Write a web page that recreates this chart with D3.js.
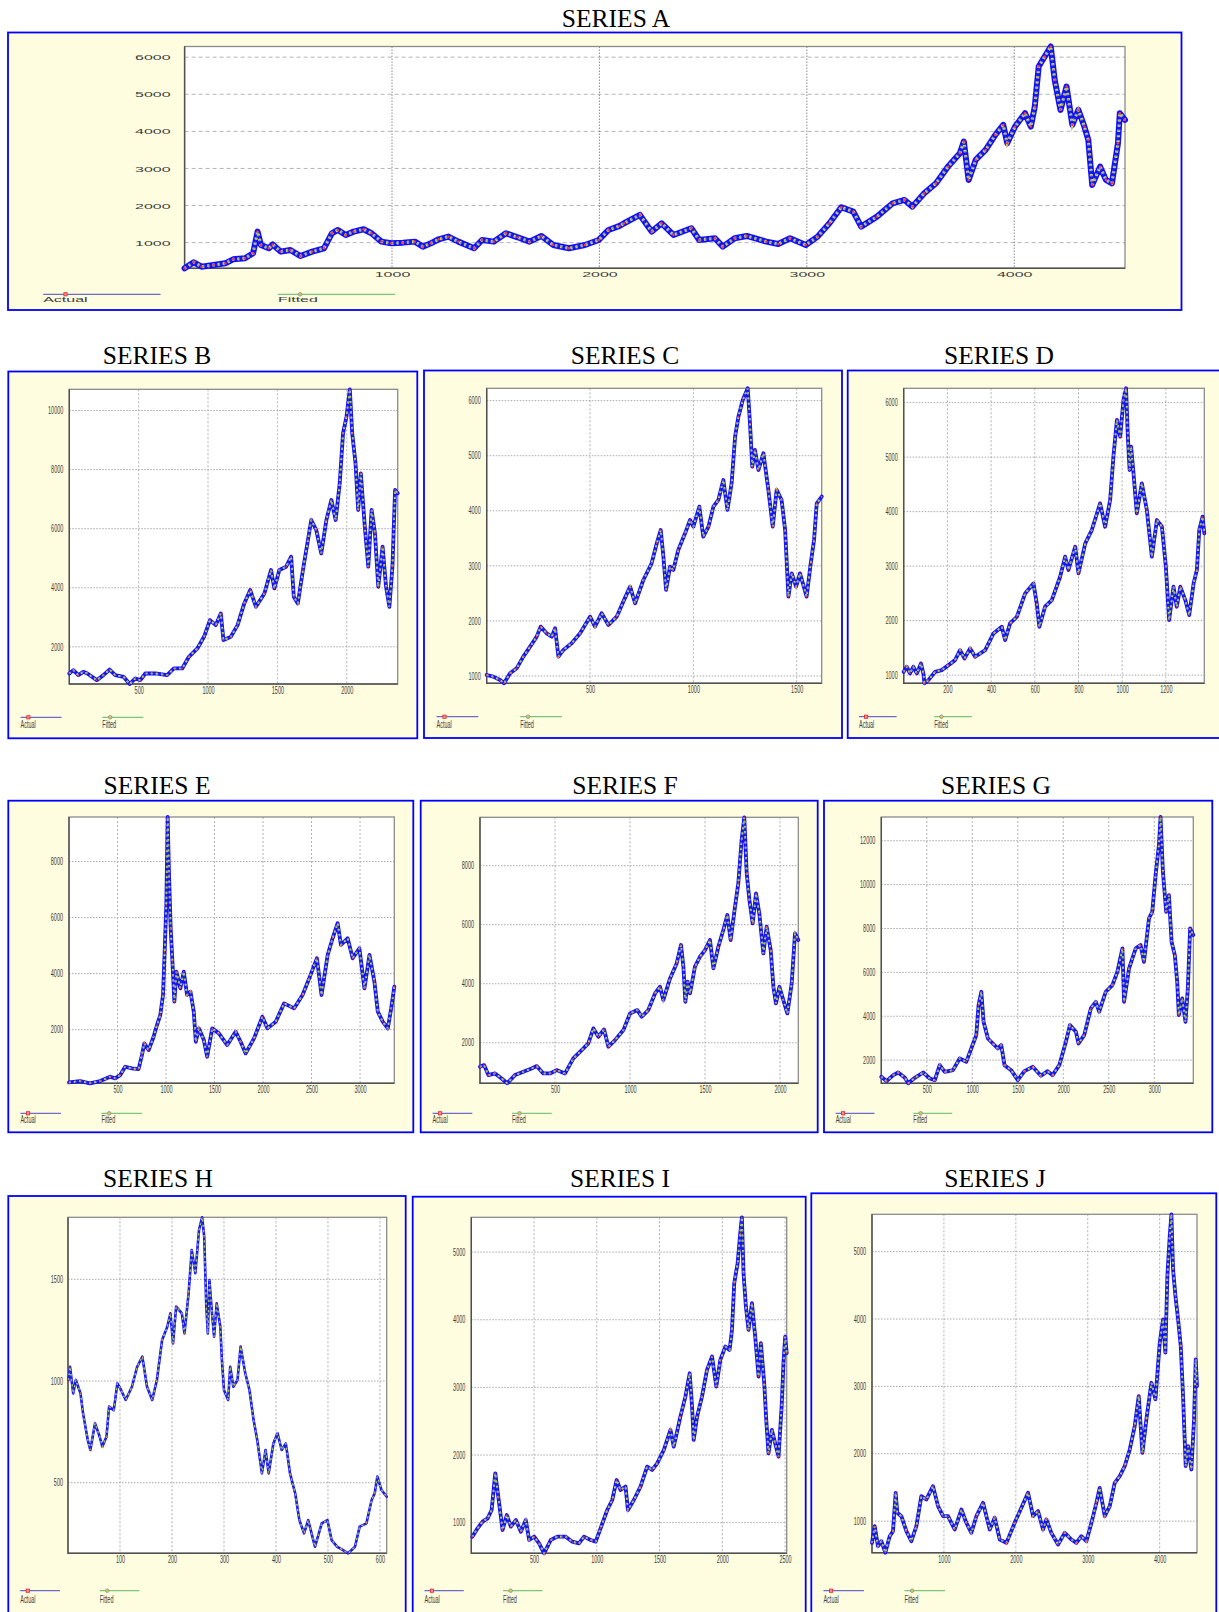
<!DOCTYPE html>
<html>
<head>
<meta charset="utf-8">
<script src="https://cdn.jsdelivr.net/npm/d3@7"></script>
<style>
  body { margin: 0; background: #ffffff; }
  svg { display: block; }
</style>
</head>
<body>
<svg id="chart" width="1219" height="1612"></svg>
<script>
// ---- Series values: [observation index, level] ----
const seriesA = [[0,308],[44,470],[82,352],[139,397],[196,442],[234,550],[291,577],[330,712],[352,1297],[368,937],[406,847],[425,950],[463,757],[510,802],[558,640],[615,757],[672,847],[710,1252],[739,1342],[777,1207],[815,1297],[863,1360],[901,1252],[949,1027],[996,982],[1053,1000],[1110,1027],[1149,892],[1187,982],[1225,1090],[1272,1162],[1320,1027],[1396,847],[1434,1072],[1491,1027],[1549,1252],[1606,1144],[1663,1027],[1720,1180],[1777,937],[1853,847],[1930,937],[1997,1072],[2044,1342],[2097,1450],[2119,1522],[2195,1746],[2252,1297],[2300,1522],[2357,1207],[2443,1387],[2481,1072],[2557,1117],[2595,892],[2652,1117],[2710,1180],[2805,1027],[2862,964],[2919,1117],[2995,937],[3052,1162],[3109,1522],[3166,1953],[3224,1836],[3262,1432],[3338,1701],[3414,2061],[3471,2151],[3509,1971],[3566,2331],[3623,2601],[3681,3050],[3738,3410],[3757,3725],[3780,2691],[3814,3230],[3862,3500],[3909,3905],[3947,4174],[3966,3680],[4004,4129],[4052,4489],[4080,4129],[4099,4669],[4118,5748],[4147,6018],[4176,6288],[4195,5388],[4223,4579],[4252,5208],[4280,4174],[4309,4579],[4338,4129],[4357,3770],[4376,2556],[4414,3050],[4442,2691],[4471,2601],[4500,3680],[4509,4489],[4534,4309]];

const seriesB = [[0,1096],[29,1209],[65,1040],[101,1153],[130,1096],[198,870],[246,1040],[290,1230],[331,1040],[391,983],[435,740],[476,927],[512,870],[548,1096],[621,1096],[705,1040],[754,1266],[814,1266],[862,1661],[923,1944],[971,2339],[1014,2904],[1056,2734],[1092,3130],[1111,2226],[1164,2339],[1213,2734],[1261,3469],[1304,3921],[1345,3356],[1406,3808],[1454,4599],[1478,3977],[1514,4599],[1563,4712],[1599,5051],[1618,3695],[1647,3469],[1684,4599],[1720,5616],[1744,6294],[1780,5955],[1816,5164],[1853,6294],[1889,6972],[1920,6294],[1949,7537],[1973,9232],[1998,9797],[2022,10720],[2039,9232],[2063,8215],[2082,6633],[2101,7876],[2130,6068],[2155,4712],[2179,6633],[2203,5842],[2227,4034],[2258,5390],[2283,4034],[2307,3356],[2329,4712],[2348,7311],[2367,7200]];

const seriesC = [[0,1018],[32,988],[65,927],[84,867],[113,1048],[145,1139],[177,1351],[210,1533],[242,1714],[261,1896],[290,1775],[315,1714],[331,1866],[347,1351],[371,1472],[411,1593],[452,1775],[500,2077],[524,1896],[556,2138],[589,1926],[629,2077],[661,2350],[694,2622],[718,2320],[758,2743],[798,3046],[823,3409],[842,3651],[855,3167],[868,2562],[887,2985],[903,2925],[927,3288],[960,3591],[984,3833],[1000,3712],[1029,4075],[1048,3530],[1073,3712],[1097,4075],[1121,4196],[1145,4559],[1165,4015],[1185,4499],[1202,5346],[1218,5709],[1239,6012],[1263,6224],[1274,5588],[1285,4801],[1298,5104],[1315,4741],[1339,5044],[1363,4378],[1384,3712],[1403,4378],[1427,4196],[1444,3651],[1460,2441],[1476,2864],[1497,2622],[1516,2864],[1548,2441],[1568,3046],[1584,3470],[1597,4136],[1621,4257]];

const seriesD = [[0,1061],[14,1153],[29,1031],[44,1153],[60,1031],[79,1214],[90,1031],[95,850],[113,908],[144,1061],[174,1092],[205,1184],[235,1275],[258,1459],[278,1306],[304,1490],[327,1337],[373,1459],[411,1765],[449,1887],[464,1643],[487,1949],[518,2071],[556,2499],[594,2683],[609,2316],[621,1887],[647,2255],[678,2377],[716,2805],[739,3173],[754,2928],[785,3356],[800,2867],[831,3417],[861,3662],[899,4152],[922,3723],[945,4213],[960,5009],[976,5682],[991,5376],[1006,6049],[1018,6263],[1026,5376],[1034,4764],[1041,5192],[1052,4702],[1067,3968],[1090,4519],[1113,4029],[1136,3173],[1159,3846],[1182,3723],[1200,2989],[1215,2010],[1235,2622],[1250,2255],[1266,2622],[1289,2377],[1307,2102],[1327,2683],[1342,2928],[1353,3662],[1368,3907],[1376,3601]];

const seriesE = [[0,119],[114,167],[217,88],[321,167],[424,321],[476,262],[528,381],[579,679],[648,619],[717,595],[752,1095],[776,1512],[821,1274],[872,1750],[907,2167],[941,2524],[969,3238],[986,4786],[1003,6452],[1017,9590],[1031,7524],[1048,5619],[1066,4429],[1086,3000],[1107,4071],[1148,3476],[1183,4071],[1217,3238],[1252,3357],[1286,2643],[1307,1571],[1338,2048],[1390,1631],[1424,1036],[1476,2048],[1545,1869],[1631,1452],[1717,1929],[1769,1571],[1821,1155],[1907,1690],[1993,2464],[2045,2048],[2131,2286],[2217,2940],[2321,2762],[2407,3238],[2476,3833],[2555,4548],[2603,3238],[2666,4667],[2717,5262],[2769,5800],[2803,5024],[2872,5262],[2924,4548],[2993,4905],[3045,3476],[3097,4667],[3148,3714],[3183,2643],[3234,2286],[3286,2048],[3321,2762],[3353,3536]];

const seriesF = [[0,1186],[27,1243],[56,904],[100,960],[144,791],[182,626],[233,904],[289,1017],[344,1130],[378,1209],[422,960],[467,960],[511,1073],[567,960],[622,1469],[678,1751],[722,1977],[756,2486],[789,2203],[827,2452],[856,1864],[900,2090],[956,2429],[1000,2994],[1049,3107],[1078,2881],[1122,3107],[1167,3672],[1200,3898],[1222,3446],[1267,4181],[1311,4689],[1340,5311],[1356,4576],[1369,3390],[1384,4068],[1400,3672],[1433,4576],[1467,4915],[1500,5141],[1533,5480],[1556,4520],[1589,5254],[1622,5819],[1649,6328],[1671,5480],[1700,6610],[1722,7401],[1744,8870],[1762,9640],[1778,7740],[1796,6836],[1818,6045],[1840,7062],[1862,6384],[1889,5028],[1911,5932],[1938,5141],[1956,3898],[1973,3333],[1996,3898],[2022,3446],[2049,2994],[2078,4011],[2100,5706],[2122,5480]];

const seriesG = [[0,1240],[58,1043],[131,1316],[186,1438],[259,1195],[296,945],[369,1195],[460,1438],[533,1164],[588,1088],[642,1772],[697,1468],[788,1544],[861,2076],[934,1924],[989,2532],[1044,3140],[1069,4508],[1099,5116],[1124,3748],[1172,2988],[1226,2760],[1281,2532],[1318,2684],[1354,1772],[1427,1544],[1500,1088],[1573,1498],[1664,1696],[1755,1286],[1828,1498],[1883,1316],[1956,1772],[2029,2836],[2073,3596],[2139,3292],[2168,2760],[2230,3140],[2303,4356],[2358,4660],[2394,4204],[2467,5116],[2540,5420],[2595,6028],[2650,7092],[2668,4660],[2723,6180],[2796,7092],[2850,7243],[2887,6483],[2942,8459],[2978,8763],[3015,10435],[3051,11803],[3069,13080],[3095,10587],[3131,8763],[3161,9523],[3190,7395],[3226,6787],[3252,5571],[3270,4052],[3307,4812],[3343,3748],[3369,5268],[3394,8003],[3429,7699]];

const seriesH = [[1,1005],[4,1070],[10,939],[15,1005],[24,939],[29,841],[38,710],[43,661],[52,792],[61,726],[66,677],[74,726],[79,874],[88,857],[95,989],[102,956],[111,907],[123,972],[133,1070],[143,1120],[152,972],[162,907],[171,1005],[181,1202],[191,1267],[197,1333],[202,1185],[208,1366],[219,1333],[224,1234],[232,1431],[238,1644],[245,1530],[252,1743],[258,1805],[262,1710],[266,1366],[269,1234],[272,1497],[277,1333],[281,1218],[286,1382],[293,1267],[296,1103],[300,956],[308,907],[312,1070],[318,972],[326,1005],[332,1169],[341,1038],[349,956],[357,808],[364,710],[373,546],[380,661],[386,546],[395,693],[403,743],[411,661],[419,693],[427,546],[437,448],[445,316],[454,251],[462,316],[475,185],[488,300],[499,316],[507,218],[518,185],[529,169],[539,153],[552,185],[561,284],[574,300],[584,415],[590,448],[595,530],[603,464],[613,431]];

const seriesI = [[8,793],[50,916],[90,1015],[130,1064],[162,1187],[191,1730],[215,1385],[249,892],[283,1113],[315,941],[355,1039],[395,867],[434,1039],[461,744],[501,793],[540,694],[580,547],[633,744],[686,793],[752,793],[805,719],[858,694],[898,793],[951,744],[991,719],[1030,916],[1083,1187],[1123,1335],[1158,1631],[1189,1483],[1229,1533],[1248,1187],[1295,1335],[1348,1533],[1401,1828],[1441,1779],[1481,1878],[1534,2075],[1587,2371],[1613,2124],[1666,2568],[1706,2864],[1740,3209],[1759,2716],[1772,2223],[1799,2568],[1838,2864],[1878,3258],[1918,3456],[1952,3012],[1984,3406],[2024,3604],[2058,3554],[2077,3850],[2095,4540],[2122,4836],[2143,5280],[2156,5515],[2169,4688],[2188,4195],[2209,3850],[2236,4245],[2262,3751],[2289,3160],[2307,3653],[2334,3061],[2350,2519],[2368,2026],[2395,2371],[2421,2174],[2448,1976],[2474,2765],[2487,3357],[2501,3751],[2513,3505]];

const seriesJ = [[0,678],[37,926],[83,629],[130,703],[185,532],[246,777],[292,851],[329,1421],[352,1124],[408,1074],[478,851],[547,703],[617,926],[686,1371],[756,1322],[848,1520],[918,1223],[988,1074],[1057,1074],[1150,876],[1243,1173],[1312,975],[1382,827],[1451,1074],[1544,1272],[1637,876],[1706,1050],[1776,728],[1869,678],[1984,975],[2077,1198],[2170,1421],[2239,1074],[2309,1149],[2378,876],[2425,1025],[2494,827],[2587,653],[2680,827],[2772,728],[2842,678],[2911,777],[2981,703],[3051,975],[3120,1272],[3166,1495],[3236,1074],[3306,1223],[3375,1569],[3445,1668],[3514,1817],[3584,2064],[3653,2411],[3709,2856],[3760,2015],[3815,2510],[3885,3054],[3941,2807],[4001,3649],[4047,3995],[4079,3500],[4107,4639],[4140,5233],[4163,5554],[4186,4738],[4219,4342],[4256,3995],[4293,3599],[4325,2856],[4362,1817],[4395,2114],[4441,1767],[4478,2510],[4501,3401],[4519,3005]];

// ---- Tick values ----
const xTicksA = [1000, 2000, 3000, 4000];
const yTicksA = [1000, 2000, 3000, 4000, 5000, 6000];
const xTicksB = [500, 1000, 1500, 2000];
const yTicksB = [2000, 4000, 6000, 8000, 10000];
const xTicksC = [500, 1000, 1500];
const yTicksC = [1000, 2000, 3000, 4000, 5000, 6000];
const xTicksD = [200, 400, 600, 800, 1000, 1200];
const yTicksD = [1000, 2000, 3000, 4000, 5000, 6000];
const xTicksE = [500, 1000, 1500, 2000, 2500, 3000];
const yTicksE = [2000, 4000, 6000, 8000];
const xTicksF = [500, 1000, 1500, 2000];
const yTicksF = [2000, 4000, 6000, 8000];
const xTicksG = [500, 1000, 1500, 2000, 2500, 3000];
const yTicksG = [2000, 4000, 6000, 8000, 10000, 12000];
const xTicksH = [100, 200, 300, 400, 500, 600];
const yTicksH = [500, 1000, 1500];
const xTicksI = [500, 1000, 1500, 2000, 2500];
const yTicksI = [1000, 2000, 3000, 4000, 5000];
const xTicksJ = [1000, 2000, 3000, 4000];
const yTicksJ = [1000, 2000, 3000, 4000, 5000];

const legendLabels = ["Actual", "Fitted"];

// ---- Page geometry for each panel (box and plot: [x0, y0, x1, y1]) ----
const wide = { font: 8, sx: 2.0, padY: 14, padX: 3, band: 6, wideGrid: true };
const small = { font: 10, sx: 0.55, padY: 6, padX: 3, band: 3.8, wideGrid: false };
const geometry = {
  A: Object.assign({}, wide,  { box: [8, 32.5, 1181.5, 310],     plot: [184.6, 46.5, 1125, 268.3],   title: [616, 27],   legend: [294.3, 302.5] }),
  B: Object.assign({}, small, { box: [8.3, 371.5, 417.3, 738.3], plot: [69.3, 389.3, 397.7, 684],    title: [157, 364],  legend: [717.3, 728] }),
  C: Object.assign({}, small, { box: [424, 370.5, 842, 738],     plot: [486.7, 388.3, 821.7, 683.3], title: [625, 364],  legend: [716.7, 728] }),
  D: Object.assign({}, small, { box: [847.7, 370.5, 1224, 738],  plot: [903.7, 388.3, 1204.3, 683.3], title: [999, 364], legend: [716.7, 728] }),
  E: Object.assign({}, small, { box: [8.3, 800.7, 413.3, 1132.3], plot: [69, 817, 394.3, 1083.3],   title: [157, 794],  legend: [1113.3, 1123] }),
  F: Object.assign({}, small, { box: [420.7, 800.7, 817.7, 1132.3], plot: [480, 817.3, 798.3, 1083.3], title: [625, 794], legend: [1113.3, 1123] }),
  G: Object.assign({}, small, { box: [824, 800.7, 1212.3, 1132.3], plot: [881.3, 817, 1193.3, 1083.3], title: [996, 794], legend: [1113.3, 1123] }),
  H: Object.assign({}, small, { box: [8.3, 1196, 405.7, 1630],   plot: [68, 1217.3, 386.7, 1553.3],  title: [158, 1187], legend: [1590.7, 1603], band: 2.6, padY: 5 }),
  I: Object.assign({}, small, { box: [412.7, 1196.7, 805.7, 1630], plot: [471.3, 1217.3, 786.7, 1553.3], title: [620, 1187], legend: [1590.7, 1603] }),
  J: Object.assign({}, small, { box: [811.3, 1193.3, 1216.3, 1630], plot: [872, 1214.3, 1197, 1552.7], title: [995, 1187], legend: [1590.7, 1603] })
};

const panels = [
  { id: "A", title: "SERIES A", data: seriesA, xTicks: xTicksA, yTicks: yTicksA },
  { id: "B", title: "SERIES B", data: seriesB, xTicks: xTicksB, yTicks: yTicksB },
  { id: "C", title: "SERIES C", data: seriesC, xTicks: xTicksC, yTicks: yTicksC },
  { id: "D", title: "SERIES D", data: seriesD, xTicks: xTicksD, yTicks: yTicksD },
  { id: "E", title: "SERIES E", data: seriesE, xTicks: xTicksE, yTicks: yTicksE },
  { id: "F", title: "SERIES F", data: seriesF, xTicks: xTicksF, yTicks: yTicksF },
  { id: "G", title: "SERIES G", data: seriesG, xTicks: xTicksG, yTicks: yTicksG },
  { id: "H", title: "SERIES H", data: seriesH, xTicks: xTicksH, yTicks: yTicksH },
  { id: "I", title: "SERIES I", data: seriesI, xTicks: xTicksI, yTicks: yTicksI },
  { id: "J", title: "SERIES J", data: seriesJ, xTicks: xTicksJ, yTicks: yTicksJ }
];

const svg = d3.select("#chart");
const labelFont = "'Liberation Sans', Arial, sans-serif";
const labelColor = "#3c3c3c";

// Squeeze or stretch a label horizontally around its own anchor point.
function squeezeText(sel, sx) {
  sel.each(function () {
    const t = d3.select(this);
    const x = +(t.attr("x") || 0);
    t.attr("x", x / sx).attr("transform", `scale(${sx},1)`);
  });
}

function drawPanel(p) {
  const L = geometry[p.id];
  const [bx0, by0, bx1, by1] = L.box;
  const [px0, py0, px1, py1] = L.plot;
  const g = svg.append("g").attr("class", "panel-" + p.id);

  // Frame
  g.append("rect")
    .attr("x", bx0).attr("y", by0)
    .attr("width", bx1 - bx0).attr("height", by1 - by0)
    .attr("fill", "#fffde0")
    .attr("stroke", "#0000ff").attr("stroke-width", 1.8);

  // Title
  svg.append("text")
    .attr("x", L.title[0]).attr("y", L.title[1])
    .attr("text-anchor", "middle")
    .attr("font-family", "'Liberation Serif', 'Times New Roman', serif")
    .attr("font-size", 25.5)
    .attr("fill", "#000")
    .text(p.title);

  // Scales
  const x = d3.scaleLinear()
    .domain([0, d3.max(p.data, d => d[0])])
    .range([px0, px1]);
  const y = d3.scaleLinear()
    .domain(d3.extent(p.data, d => d[1]))
    .range([py1, py0]);

  // Plot background
  g.append("rect")
    .attr("x", px0).attr("y", py0)
    .attr("width", px1 - px0).attr("height", py1 - py0)
    .attr("fill", "#ffffff");

  // Grid
  const grid = g.append("g");
  grid.selectAll("line.hg").data(p.yTicks).join("line")
    .attr("class", "hg")
    .attr("x1", px0).attr("x2", px1)
    .attr("y1", d => y(d)).attr("y2", d => y(d))
    .attr("stroke", L.wideGrid ? "#b4b4b4" : "#a8a8a8")
    .attr("stroke-width", 1)
    .attr("stroke-dasharray", L.wideGrid ? "4,3" : "1.5,1.5");
  grid.selectAll("line.vg").data(p.xTicks).join("line")
    .attr("class", "vg")
    .attr("y1", py0).attr("y2", py1)
    .attr("x1", d => x(d)).attr("x2", d => x(d))
    .attr("stroke", L.wideGrid ? "#8a8a8a" : "#b0b0b0")
    .attr("stroke-width", 1)
    .attr("stroke-dasharray", L.wideGrid ? "1.5,1.5" : "2,2");

  // Axes
  const yAxis = g.append("g")
    .attr("transform", `translate(${px0},0)`)
    .call(d3.axisLeft(y).tickValues(p.yTicks).tickSize(0).tickPadding(L.padY).tickFormat(d3.format("d")));
  const xAxis = g.append("g")
    .attr("transform", `translate(0,${py1})`)
    .call(d3.axisBottom(x).tickValues(p.xTicks).tickSize(0).tickPadding(L.padX).tickFormat(d3.format("d")));
  [yAxis, xAxis].forEach(ax => {
    ax.select(".domain").remove();
    ax.selectAll("text")
      .attr("font-family", labelFont)
      .attr("font-size", L.font)
      .attr("fill", labelColor);
    squeezeText(ax.selectAll("text"), L.sx);
  });

  // Plot border: light top/right, darker left/bottom
  g.append("rect")
    .attr("x", px0).attr("y", py0)
    .attr("width", px1 - px0).attr("height", py1 - py0)
    .attr("fill", "none").attr("stroke", "#8c8c8c").attr("stroke-width", 1.3);
  g.append("path")
    .attr("d", `M${px0},${py0}V${py1}H${px1}`)
    .attr("fill", "none").attr("stroke", "#505050").attr("stroke-width", 1.4);

  // Series: blue actual band, fitted markers strung along it
  const line = d3.line().x(d => x(d[0])).y(d => y(d[1]));
  const s = g.append("g");
  s.append("path").datum(p.data).attr("d", line)
    .attr("fill", "none").attr("stroke", "#1010ff")
    .attr("stroke-width", L.band)
    .attr("stroke-linejoin", "round").attr("stroke-linecap", "round");
  s.append("path").datum(p.data).attr("d", line)
    .attr("fill", "none").attr("stroke", "#9c98bc")
    .attr("stroke-width", L.band * 0.55)
    .attr("stroke-dasharray", "2,3.2");
  s.append("path").datum(p.data).attr("d", line)
    .attr("fill", "none").attr("stroke", "#ecdf2c")
    .attr("stroke-width", L.band * 0.42)
    .attr("stroke-dasharray", "1.2,4")
    .attr("stroke-dashoffset", 0.4);
  s.append("path").datum(p.data).attr("d", line)
    .attr("fill", "none").attr("stroke", "#2a9a2a")
    .attr("stroke-opacity", 0.45)
    .attr("stroke-width", 0.5);
  s.selectAll("circle").data(p.data).join("circle")
    .attr("cx", d => x(d[0])).attr("cy", d => y(d[1]))
    .attr("r", L.band * 0.2)
    .attr("fill", "#ff3a3a");

  // Legend
  const w = bx1 - bx0;
  const [ly, ty] = L.legend;
  const legend = g.append("g");
  const entries = [
    { label: legendLabels[0], x0: 0.03, x1: 0.13, mk: 0.049, color: "#6c6cc8" },
    { label: legendLabels[1], x0: 0.23, x1: 0.33, mk: 0.249, color: "#7cc67c" }
  ];
  entries.forEach((e, i) => {
    legend.append("line")
      .attr("x1", bx0 + e.x0 * w).attr("x2", bx0 + e.x1 * w)
      .attr("y1", ly).attr("y2", ly)
      .attr("stroke", e.color).attr("stroke-width", 1.3);
    if (i === 0) {
      legend.append("rect")
        .attr("x", bx0 + e.mk * w - 1.6).attr("y", ly - 1.6)
        .attr("width", 3.2).attr("height", 3.2)
        .attr("fill", "#ff9090").attr("stroke", "#e02424").attr("stroke-width", 0.8);
    } else {
      legend.append("circle")
        .attr("cx", bx0 + e.mk * w).attr("cy", ly).attr("r", 1.8)
        .attr("fill", "#d8cc40").attr("stroke", "#8a8aa8").attr("stroke-width", 0.8);
    }
    const t = legend.append("text")
      .attr("x", bx0 + e.x0 * w).attr("y", ty)
      .attr("font-family", labelFont)
      .attr("font-size", L.font)
      .attr("fill", labelColor)
      .text(e.label);
    squeezeText(t, L.sx);
  });
}

panels.forEach(drawPanel);
</script>
</body>
</html>
